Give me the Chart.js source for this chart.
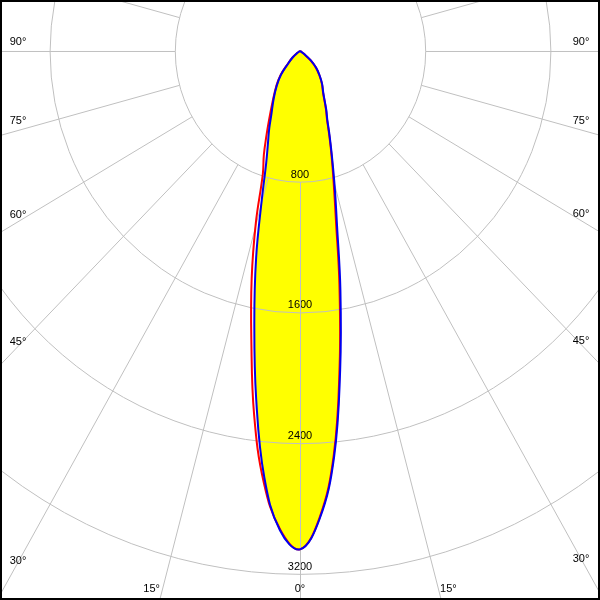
<!DOCTYPE html>
<html>
<head>
<meta charset="utf-8">
<script src="https://cdn.jsdelivr.net/npm/chart.js@4.4.1/dist/chart.umd.min.js"></script>
<style>
    body { margin: 0; background: #fff; }
    #wrap { width: 600px; height: 600px; }
</style>
</head>
<body>
<div id="wrap"><canvas id="chart" width="600" height="600"></canvas></div>
<script>
// gamma angles (deg from nadir) shared by all curves
const angles = [0, 2.5, 5, 7.5, 10, 12.5, 15, 17.5, 20, 22.5, 25, 30, 35, 40, 45, 50, 55, 60, 65, 70, 80, 90];

// luminous intensity (cd), one array per half plane
const blueRight = [3050, 2867, 2496, 1967, 1487, 1093, 855, 680, 554, 456, 397, 298, 246, 194, 146, 90, 30, 5, 0, 0, 0, 0];
const blueLeft = [3050, 2936, 2619, 2146, 1681, 1295, 944, 718, 598, 514, 435, 336, 259, 188, 102, 60, 20, 3, 0, 0, 0, 0];
const redRight = [3050, 2860, 2480, 1940, 1450, 1060, 830, 670, 545, 450, 392, 295, 244, 192, 144, 88, 28, 5, 0, 0, 0, 0];
const redLeft = [3050, 2930, 2652, 2246, 1791, 1427, 1091, 790, 675, 560, 470, 345, 265, 195, 108, 62, 22, 3, 0, 0, 0, 0];

// grid rings and angle ticks
const ringValues = [800, 1600, 2400, 3200];
const ringLabels = ['800', '1600', '2400', '3200'];
const spokeAngles = [0, 15, 30, 45, 60, 75, 90, 105, 120, 135, 150, 165, 180];
const angleLabels = [0, 15, 30, 45, 60, 75, 90];

const rad = (d) => d * Math.PI / 180;

// polar (gamma, I) -> x/y in cd, nadir pointing down; left half first so the tip is mid-path
const toPoints = (left, right) => {
    const pts = [];
    for (let i = angles.length - 1; i > 0; i--) {
        pts.push({ x: -left[i] * Math.sin(rad(angles[i])), y: -left[i] * Math.cos(rad(angles[i])) });
    }
    for (let i = 0; i < angles.length; i++) {
        pts.push({ x: right[i] * Math.sin(rad(angles[i])), y: -right[i] * Math.cos(rad(angles[i])) });
    }
    return pts;
};

const bluePts = toPoints(blueLeft, blueRight);
const redPts = toPoints(redLeft, redRight);

const FONT = '11px "Liberation Sans", Arial, sans-serif';
const GRID = '#c0c0c0';

// polar grid + labels, drawn just after the yellow fill
const polarGrid = {
    id: 'polarGrid',
    afterDatasetDraw(chart, args) {
        if (args.index !== 2) return;
        const { ctx, chartArea: area } = chart;
        const xs = chart.scales.x, ys = chart.scales.y;
        const cx = xs.getPixelForValue(0), cy = ys.getPixelForValue(0);
        // pixels per cd, horizontally and vertically
        const kx = (xs.getPixelForValue(1000) - cx) / 1000;
        const ky = (ys.getPixelForValue(-1000) - cy) / 1000;

        ctx.save();
        ctx.beginPath();
        ctx.rect(area.left, area.top, area.right - area.left, area.bottom - area.top);
        ctx.clip();

        // ring values sit just above each ring on the 0° line
        ctx.font = FONT;
        ctx.fillStyle = '#000';
        ctx.textAlign = 'center';
        ctx.textBaseline = 'middle';
        ringValues.forEach((r, i) => {
            ctx.fillText(ringLabels[i], cx, cy + r * ky - 7);
        });

        ctx.strokeStyle = GRID;
        ctx.lineWidth = 1;
        ringValues.forEach(r => {
            ctx.beginPath();
            ctx.ellipse(cx + 0.5, cy + 0.5, r * kx, r * ky, 0, 0, Math.PI * 2);
            ctx.stroke();
        });

        const r0 = ringValues[0], r1 = 8000;
        spokeAngles.forEach(a => {
            [-1, 1].forEach(s => {
                const sx = s * Math.sin(rad(a)) * kx, sy = Math.cos(rad(a)) * ky;
                ctx.beginPath();
                ctx.moveTo(cx + 0.5 + sx * r0, cy + 0.5 + sy * r0);
                ctx.lineTo(cx + 0.5 + sx * r1, cy + 0.5 + sy * r1);
                ctx.stroke();
            });
        });

        // angle labels where the spokes leave the frame
        ctx.fillStyle = '#000';
        angleLabels.forEach(a => {
            [-1, 1].forEach(s => {
                if (a === 0 && s > 0) return;
                const dxu = Math.sin(rad(a)) * kx, dyu = Math.cos(rad(a)) * ky;
                let lx, ly;
                if (a >= 30) {
                    lx = s < 0 ? area.left + 18 : area.right - 19;
                    const off = Math.min(9, (a - 30) / 5);
                    ly = cy + Math.abs(lx - cx) * dyu / dxu - off;
                } else {
                    ly = area.bottom - 11;
                    lx = cx + s * (ly - cy) * dxu / dyu + s * 40 * Math.sin(rad(a));
                }
                ctx.fillText(a + '°', lx, ly);
            });
        });
        ctx.restore();
    },
    afterDraw(chart) {
        const { ctx } = chart;
        ctx.save();
        ctx.strokeStyle = '#000';
        ctx.lineWidth = 2;
        ctx.strokeRect(1, 1, chart.width - 2, chart.height - 2);
        ctx.restore();
    }
};

const ctx = document.getElementById('chart').getContext('2d');
const chart = new Chart(ctx, {
    type: 'scatter',
    data: {
        datasets: [
            {
                label: 'C90-C270',
                data: bluePts,
                showLine: true,
                borderColor: '#0000f0',
                borderWidth: 2,
                pointRadius: 0,
                tension: 0.4,
                fill: false,
            },
            {
                label: 'C0-C180',
                data: redPts,
                showLine: true,
                borderColor: '#ff0000',
                borderWidth: 2,
                pointRadius: 0,
                tension: 0.4,
                fill: false,
            },
            {
                label: 'fill',
                data: bluePts,
                showLine: true,
                borderWidth: 0,
                borderColor: 'rgba(0,0,0,0)',
                backgroundColor: '#ffff00',
                pointRadius: 0,
                tension: 0.4,
                fill: 'shape',
            },
        ],
    },
    options: {
        responsive: false,
        animation: false,
        layout: { padding: 0 },
        plugins: {
            legend: { display: false },
            tooltip: { enabled: false },
        },
        scales: {
            x: { type: 'linear', min: -1917, max: 1917, display: false },
            y: { type: 'linear', min: -3360, max: 312, display: false },
        },
    },
    plugins: [polarGrid],
});
</script>
</body>
</html>
